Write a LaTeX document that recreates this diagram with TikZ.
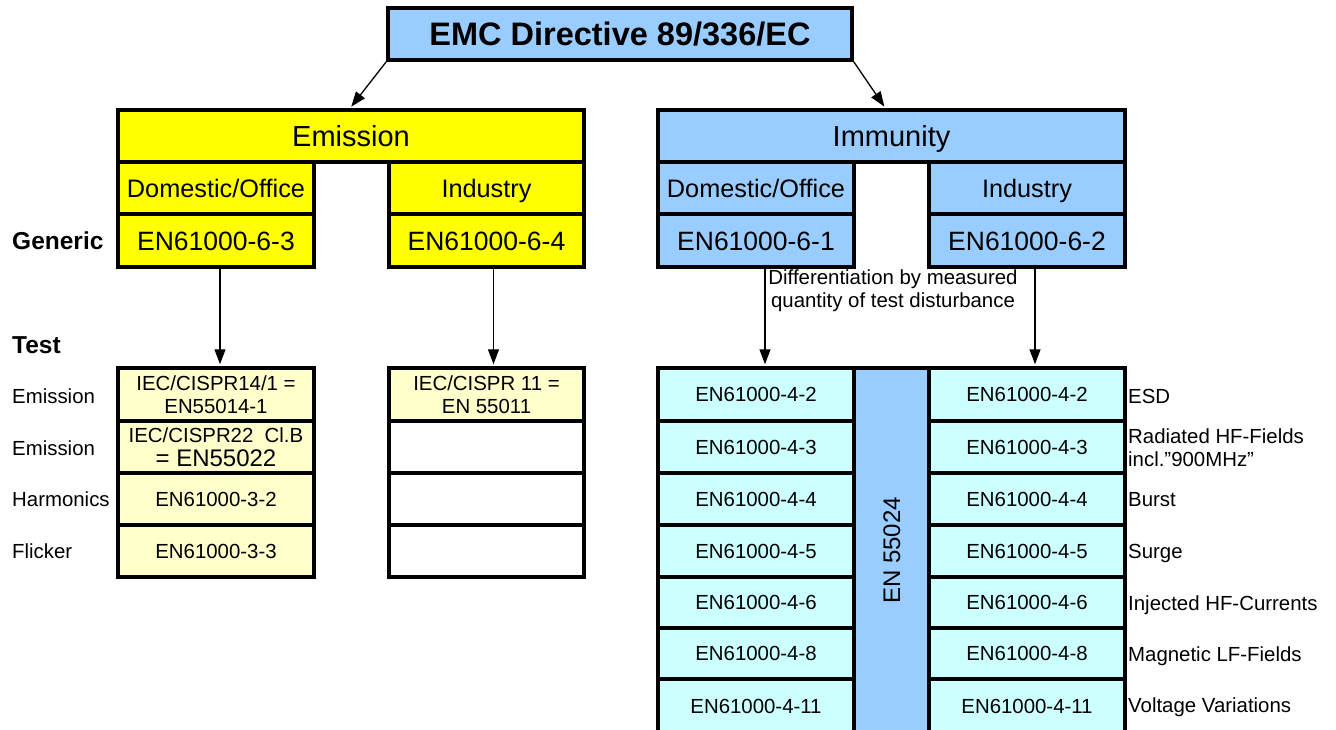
\documentclass[tikz,border=0pt]{standalone}
\usepackage{fontspec}
\setmainfont{Liberation Sans}
\usetikzlibrary{arrows.meta}
\definecolor{cyel}{HTML}{FFFF00}
\definecolor{clyel}{HTML}{FFFFCC}
\definecolor{cblue}{HTML}{99CCFF}
\definecolor{ccyan}{HTML}{CCFFFF}
\newcommand\szTitle{\fontsize{32.5}{37}\selectfont\bfseries}
\newcommand\szHead{\fontsize{29}{33}\selectfont}
\newcommand\szSub{\fontsize{25.3}{29}\selectfont}
\newcommand\szGen{\fontsize{26.5}{30}\selectfont}
\newcommand\szTest{\fontsize{20.4}{23}\selectfont}
\newcommand\szBig{\fontsize{24}{27}\selectfont}
\newcommand\szLab{\fontsize{24.5}{28}\selectfont\bfseries}
\begin{document}
\begin{tikzpicture}[x=1pt,y=-1pt,
  cell/.style={draw=black,line width=3.5pt,inner sep=0pt,align=center},
  tTitle/.style={font=\szTitle,text height=23.3pt,text depth=0pt},
  tHead/.style={font=\szHead,text height=20.8pt,text depth=0pt},
  tSub/.style={font=\szSub,text height=18.1pt,text depth=0pt},
  tGen/.style={font=\szGen,text height=19pt,text depth=0pt},
  tTest/.style={font=\szTest,text height=14.6pt,text depth=0pt},
  arr/.style={line width=1.3pt,-{Triangle[length=15pt,width=11pt]},shorten >=2pt},
  lab/.style={anchor=west,inner sep=0pt,font=\szTest,align=left},
  lab1/.style={lab,text height=14.6pt,text depth=0pt},
  blab/.style={anchor=west,inner sep=0pt,font=\szLab,text height=17.6pt,text depth=0pt}]
\useasboundingbox (0,0) rectangle (1336,729);
\clip (0,0) rectangle (1336,729);

% title
\node[cell,fill=cblue,minimum width=464pt,minimum height=52pt,tTitle] (title) at (620,34) {EMC Directive 89/336/EC};

% emission block
\node[cell,fill=cyel,minimum width=466pt,minimum height=52pt,tHead] (emis) at (351,136) {Emission};
\node[cell,fill=cyel,minimum width=196pt,minimum height=52pt,tSub] (edom) at (216,188) {Domestic/Office};
\node[cell,fill=cyel,minimum width=196pt,minimum height=53pt,tGen] (egen1) at (216,240.5) {EN61000-6-3};
\node[cell,fill=cyel,minimum width=195pt,minimum height=52pt,tSub] (eind) at (486.5,188) {Industry};
\node[cell,fill=cyel,minimum width=195pt,minimum height=53pt,tGen] (egen2) at (486.5,240.5) {EN61000-6-4};

% immunity block
\node[cell,fill=cblue,minimum width=467pt,minimum height=52pt,tHead] (imm) at (891.5,136) {Immunity};
\node[cell,fill=cblue,minimum width=196pt,minimum height=52pt,tSub] (idom) at (756,188) {Domestic/Office};
\node[cell,fill=cblue,minimum width=196pt,minimum height=53pt,tGen] (igen1) at (756,240.5) {EN61000-6-1};
\node[cell,fill=cblue,minimum width=196pt,minimum height=52pt,tSub] (iind) at (1027,188) {Industry};
\node[cell,fill=cblue,minimum width=196pt,minimum height=53pt,tGen] (igen2) at (1027,240.5) {EN61000-6-2};

% emission test tables
\node[cell,fill=clyel,minimum width=196pt,minimum height=53pt,font=\szTest] (et1) at (216,394.5) {IEC/CISPR14/1 =\\EN55014-1};
\node[cell,fill=clyel,minimum width=196pt,minimum height=52pt,font=\szTest] (et2) at (216,447) {IEC/CISPR22~~Cl.B\\[1pt]{\szBig = EN55022}};
\node[cell,fill=clyel,minimum width=196pt,minimum height=52pt,tTest] (et3) at (216,499) {EN61000-3-2};
\node[cell,fill=clyel,minimum width=196pt,minimum height=52pt,tTest] (et4) at (216,551) {EN61000-3-3};

\node[cell,fill=clyel,minimum width=195pt,minimum height=53pt,font=\szTest] (it1) at (486.5,394.5) {IEC/CISPR 11 =\\EN 55011};
\node[cell,fill=white,minimum width=195pt,minimum height=52pt] (it2) at (486.5,447) {};
\node[cell,fill=white,minimum width=195pt,minimum height=52pt] (it3) at (486.5,499) {};
\node[cell,fill=white,minimum width=195pt,minimum height=52pt] (it4) at (486.5,551) {};

% immunity test table
\node[cell,fill=cblue,minimum width=75pt,minimum height=365pt] (mid) at (891.5,550.5) {};
\node[rotate=90,font=\szBig,inner sep=0pt,text height=17.2pt,text depth=0pt] (midtxt) at (mid.center) {EN 55024};

\foreach \nm/\yc/\hh/\txt in {a/394.5/53/EN61000-4-2, b/447/52/EN61000-4-3, c/499/52/EN61000-4-4, d/551/52/EN61000-4-5, e/602.5/51/EN61000-4-6, f/653.5/51/EN61000-4-8, g/706/54/EN61000-4-11}{
  \node[cell,fill=ccyan,minimum width=196pt,minimum height=\hh pt,tTest] (L\nm) at (756,\yc) {\txt};
  \node[cell,fill=ccyan,minimum width=196pt,minimum height=\hh pt,tTest] (R\nm) at (1027,\yc) {\txt};
}

% left labels
\node[blab] (lgen) at (12,241) {Generic};
\node[blab] (ltest) at (12,345) {Test};
\node[lab1] (l1) at (12,396) {Emission};
\node[lab1] (l2) at (12,448) {Emission};
\node[lab1] (l3) at (12,499) {Harmonics};
\node[lab1] (l4) at (12,551) {Flicker};

% right labels
\node[lab1] (r1) at (1128,396) {ESD};
\node[lab] (r2) at (1128,447.5) {Radiated HF-Fields\\incl.”900MHz”};
\node[lab1] (r3) at (1128,499) {Burst};
\node[lab1] (r4) at (1128,551) {Surge};
\node[lab1] (r5) at (1128,603) {Injected HF-Currents};
\node[lab1] (r6) at (1128,654) {Magnetic LF-Fields};
\node[lab1] (r7) at (1128,705) {Voltage Variations};

% note
\node[font=\szTest,align=center,inner sep=0pt] (note) at (893,290.5) {Differentiation by measured\\quantity of test disturbance};

% arrows
\draw[arr] (title.south west) -- ([xshift=-1pt]emis.north);
\draw[arr] (title.south east) -- ([xshift=-6pt]imm.north);
\draw[arr] ([xshift=4pt]egen1.south) -- ([xshift=4pt]et1.north);
\draw[arr] ([xshift=7pt]egen2.south) -- ([xshift=7pt]it1.north);
\draw[arr] ([xshift=9pt]igen1.south) -- ([xshift=9pt]La.north);
\draw[arr] ([xshift=8pt]igen2.south) -- ([xshift=8pt]Ra.north);
\end{tikzpicture}
\end{document}
